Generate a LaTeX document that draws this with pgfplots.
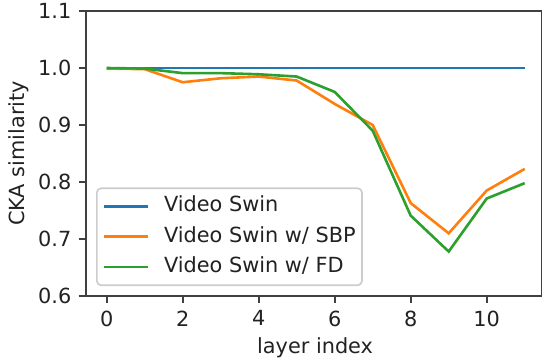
\documentclass[border=0pt]{standalone}
\usepackage{pgfplots}
\pgfplotsset{compat=1.18}
\usepackage{fontspec}
\setmainfont{DejaVu Sans}
\definecolor{tabblue}{HTML}{1F77B4}
\definecolor{taborange}{HTML}{FF7F0E}
\definecolor{tabgreen}{HTML}{2CA02C}
\definecolor{txt}{HTML}{222222}
\begin{document}
\begin{tikzpicture}
\useasboundingbox (-41.28pt,-31.68pt) rectangle (220.32pt,142.08pt);
\begin{axis}[
  at={(0pt,0pt)}, anchor=south west,
  scale only axis,
  width=218.6pt, height=136.8pt,
  xmin=-0.545, xmax=11.44,
  ymin=0.6, ymax=1.1,
  xtick={0,2,4,6,8,10},
  ytick={0.6,0.7,0.8,0.9,1.0,1.1},
  xticklabel={\pgfmathprintnumber[assume math mode=true]{\tick}},
  yticklabel={\pgfmathprintnumber[assume math mode=true,fixed,fixed zerofill,precision=1]{\tick}},
  tick align=outside,
  major tick length=3.5pt,
  every tick/.style={line width=0.8pt, black!75},
  axis line style={line width=0.8pt, black!75},
  xtick pos=bottom, ytick pos=left,
  tick label style={font=\fontsize{10}{12}\selectfont, text=txt},
  label style={font=\fontsize{10}{12}\selectfont, text=txt},
  xlabel={layer index},
  ylabel={CKA similarity},
  xlabel style={at={(axis description cs:0.503,-0.1825)}, anchor=center},
  ylabel style={at={(axis description cs:-0.147,0.5)}, anchor=center, rotate=0},
  legend cell align=left,
  legend image code/.code={\draw[#1] (0pt,0pt) -- (21pt,0pt); \path (28pt,0pt);},
  legend style={
    at={(axis description cs:0.022,0.035)}, anchor=south west,
    draw=black!20, fill=white, fill opacity=0.8, text opacity=1,
    rounded corners=2pt, line width=0.8pt,
    inner xsep=3pt, inner ysep=4pt,
    row sep=5pt,
    font=\fontsize{10}{12}\selectfont,
    text=txt,
    nodes={inner sep=0pt, text height=7.3pt, text depth=2.2pt},
  },
]
\addplot[tabblue, line width=1.25pt] coordinates {
(0,1.0) (1,1.0) (2,1.0) (3,1.0) (4,1.0) (5,1.0) (6,1.0) (7,1.0) (8,1.0) (9,1.0) (10,1.0) (11,1.0)};
\addlegendentry{Video Swin}
\addplot[taborange, line width=1.25pt] coordinates {
(0,0.999) (1,0.998) (2,0.975) (3,0.982) (4,0.985) (5,0.978) (6,0.937) (7,0.900) (8,0.763) (9,0.710) (10,0.785) (11,0.823)};
\addlegendentry{Video Swin w/ SBP}
\addplot[tabgreen, line width=1.25pt] coordinates {
(0,1.0) (1,0.999) (2,0.991) (3,0.991) (4,0.989) (5,0.985) (6,0.958) (7,0.890) (8,0.741) (9,0.678) (10,0.771) (11,0.798)};
\addlegendentry{Video Swin w/ FD}
\end{axis}
\end{tikzpicture}
\end{document}
